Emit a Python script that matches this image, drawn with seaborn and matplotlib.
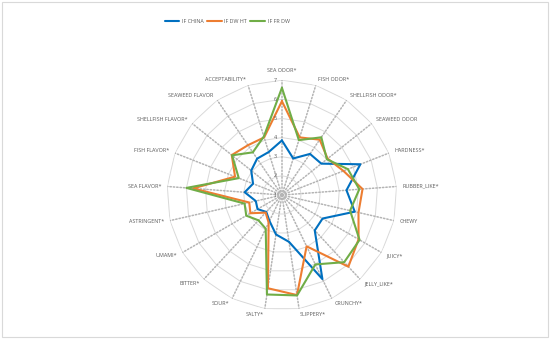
import numpy as np
import pandas as pd
import matplotlib
matplotlib.use("Agg")
import matplotlib.pyplot as plt
import seaborn as sns
from matplotlib.lines import Line2D
from matplotlib.patches import Rectangle

# sensory attributes, clockwise from the top
attributes = ["SEA ODOR*", "FISH ODOR*", "SHELLFISH ODOR*", "SEAWEED ODOR", "HARDNESS*",
              "RUBBER_LIKE*", "CHEWY", "JUICY*", "JELLY_LIKE*", "CRUNCHY*", "SLIPPERY*",
              "SALTY*", "SOUR*", "BITTER*", "UMAMI*", "ASTRINGENT*", "SEA FLAVOR*",
              "FISH FLAVOR*", "SHELLFISH FLAVOR*", "SEAWEED FLAVOR", "ACCEPTABILITY*"]
if_china = [3.85, 3.0, 3.6, 3.63, 5.4, 4.38, 4.9, 3.45, 3.52, 5.87, 3.47,
            3.08, 2.5, 2.2, 2.47, 2.4, 2.95, 2.62, 3.05, 3.3, 3.35]
if_dw_ht = [5.9, 4.15, 4.5, 4.05, 4.45, 5.22, 5.1, 5.62, 6.1, 3.97, 6.28,
            5.92, 2.6, 2.25, 2.9, 2.75, 5.65, 3.63, 4.35, 4.15, 4.15]
if_fr_dw = [6.6, 4.0, 4.65, 4.0, 4.7, 5.05, 4.65, 5.68, 5.78, 5.02, 6.3,
            6.25, 2.95, 2.8, 3.15, 3.0, 6.0, 3.42, 4.33, 3.7, 4.2]
series_names = ["IF CHINA", "IF DW HT", "IF FR DW"]
value_ticks = [1, 2, 3, 4, 5, 6, 7]

COLORS = ["#0070C0", "#ED7D31", "#70AD47"]
GRID = "#d9d9d9"
SPOKE = "#b4b4b4"
TXT = "#595959"
FS = 3.9

sns.set_style("white")
plt.rcParams["font.family"] = ["Open Sans", "DejaVu Sans"]

n = len(attributes)
theta = np.linspace(0, 2 * np.pi, n, endpoint=False)

rows = []
for name, vals in zip(series_names, [if_china, if_dw_ht, if_fr_dw]):
    for i in range(n + 1):
        t = theta[i % n] + (2 * np.pi if i == n else 0)
        rows.append({"series": name, "theta": t, "value": vals[i % n]})
df = pd.DataFrame(rows)

fig = plt.figure(figsize=(5.5, 3.39), dpi=100)
ax = fig.add_axes([0.3036, 0.0856, 0.418, 0.678], projection="polar")
ax.set_theta_zero_location("N")
ax.set_theta_direction(-1)
ax.set_ylim(value_ticks[0], value_ticks[-1])
ax.grid(False)
ax.set_xticks([])
ax.set_yticks([])
ax.spines["polar"].set_visible(False)

# polygon gridlines
closed = np.append(theta, 2 * np.pi)
for v in value_ticks[1:]:
    ax.plot(closed, [v] * (n + 1), color=GRID, lw=0.7, zorder=1)
# dotted spokes
for t in theta:
    ax.plot([t, t], [value_ticks[0], value_ticks[-1]], color=SPOKE, lw=1.1,
            ls=(0, (0.9, 1.3)), dash_capstyle="round", zorder=1)

sns.lineplot(data=df, x="theta", y="value", hue="series", palette=COLORS,
             sort=False, estimator=None, lw=1.5, legend=False, ax=ax, zorder=3)
ax.set_xlabel("")
ax.set_ylabel("")

# value axis labels
for v in value_ticks:
    ax.annotate(str(v), xy=(0, v), xytext=(-3.5, 0), textcoords="offset points",
                ha="right", va="center", fontsize=FS, color=TXT)

# category labels
for t, lab in zip(theta, attributes):
    s = np.sin(t)
    if abs(s) < 0.05:
        ax.text(t, 7.5, lab, ha="center", va="center", fontsize=FS, color=TXT, clip_on=False)
    else:
        ax.text(t, 7.31, lab, ha="left" if s > 0 else "right", va="center",
                fontsize=FS, color=TXT, clip_on=False)

handles = [Line2D([], [], color=c, lw=1.5) for c in COLORS]
fig.legend(handles, series_names, loc="center", bbox_to_anchor=(0.413, 0.938), ncol=3,
           frameon=False, fontsize=FS, handlelength=2.7, handletextpad=0.5,
           columnspacing=0.6, labelcolor=TXT)

fig.patches.append(Rectangle((0.003, 0.005), 0.993, 0.99, transform=fig.transFigure,
                             fill=False, edgecolor=GRID, lw=0.8))

fig.savefig("out.png", dpi=100)
